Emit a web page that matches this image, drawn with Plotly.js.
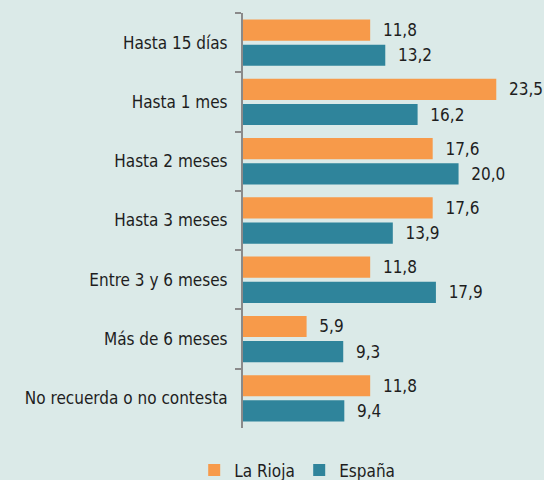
<!DOCTYPE html>
<html><head><meta charset="utf-8">
<script src="https://cdn.plot.ly/plotly-3.0.1.min.js"></script>
<style>html,body{margin:0;padding:0;background:#dbeae8;}</style>
</head><body>
<div id="chart" style="width:544px;height:480px;"></div>
<script>
const categories = ["Hasta 15 días","Hasta 1 mes","Hasta 2 meses","Hasta 3 meses","Entre 3 y 6 meses","Más de 6 meses","No recuerda o no contesta"];
const laRioja = [11.8, 23.5, 17.6, 17.6, 11.8, 5.9, 11.8];
const espana = [13.2, 16.2, 20.0, 13.9, 17.9, 9.3, 9.4];
const seriesNames = ["La Rioja", "España"];

const FONT = "'DejaVu Sans Condensed', 'Liberation Sans Narrow', sans-serif";
const common = {
  type: 'bar', orientation: 'h', y: categories,
  texttemplate: '\u00a0\u00a0%{x:.1f}', textposition: 'outside',
  textfont: {family: FONT, size: 17, color: '#1e1e1e'},
  cliponaxis: false, hoverinfo: 'skip'
};
const data = [
  Object.assign({}, common, {x: laRioja, name: seriesNames[0], marker: {color: '#f79a4a'}}),
  Object.assign({}, common, {x: espana, name: seriesNames[1], marker: {color: '#2f849b'}})
];
const layout = {
  width: 544, height: 480,
  paper_bgcolor: '#dbeae8', plot_bgcolor: '#dbeae8',
  margin: {l: 243, r: 10, t: 13, b: 52},
  separators: ',.',
  barmode: 'group', bargap: 0.15, bargroupgap: 0.16,
  font: {family: FONT, size: 17, color: '#1e1e1e'},
  xaxis: {range: [0, 27], visible: false, fixedrange: true},
  yaxis: {
    type: 'category', autorange: 'reversed',
    showline: true, linecolor: '#8a8a8a', linewidth: 2,
    ticks: 'outside', tickson: 'boundaries', ticklen: 6, tickcolor: '#8a8a8a', tickwidth: 2,
    ticklabelstandoff: 10,
    showgrid: false, zeroline: false,
    tickfont: {family: FONT, size: 17, color: '#1e1e1e'}
  },
  showlegend: true,
  legend: {orientation: 'h', xref: 'container', yref: 'container', x: 0.55, xanchor: 'center', y: 0.02, yanchor: 'middle',
    font: {family: FONT, size: 17, color: '#1e1e1e'}, bgcolor: 'rgba(0,0,0,0)', itemwidth: 30, entrywidth: 60},
};
Plotly.newPlot('chart', data, layout, {displayModeBar: false, staticPlot: true});
</script>
</body></html>
